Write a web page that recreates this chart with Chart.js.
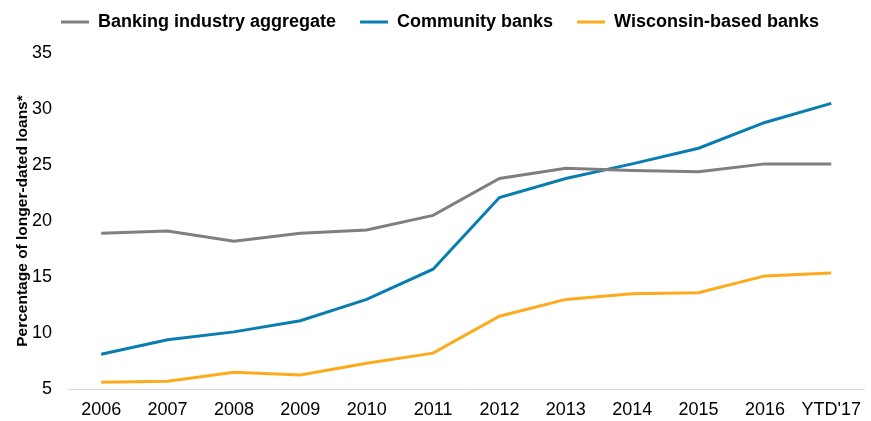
<!DOCTYPE html>
<html>
<head>
<meta charset="utf-8">
<script src="https://cdn.jsdelivr.net/npm/chart.js@4"></script>
<style>
	html, body { margin: 0; padding: 0; background: #fff; }
	#wrap { width: 871px; height: 421px; }
</style>
</head>
<body>
<div id="wrap"><canvas id="loans"></canvas></div>
<script>
var years = ['2006', '2007', '2008', '2009', '2010', '2011', '2012', '2013', '2014', '2015', '2016', "YTD'17"];
var industry = [18.9, 19.1, 18.2, 18.9, 19.2, 20.5, 23.8, 24.7, 24.5, 24.4, 25.1, 25.1];
var community = [8.1, 9.4, 10.1, 11.1, 13.0, 15.7, 22.1, 23.8, 25.1, 26.5, 28.8, 30.5];
var wisconsin = [5.6, 5.7, 6.5, 6.25, 7.3, 8.2, 11.5, 13.0, 13.5, 13.6, 15.1, 15.35];
var yTicks = [5, 10, 15, 20, 25, 30, 35];

var colors = ['#7f7f7f', '#0a7db0', '#fdab1c'];
var names = ['Banking industry aggregate', 'Community banks', 'Wisconsin-based banks'];
var series = [industry, community, wisconsin];

var datasets = [];
for (var i = 0; i < series.length; i++) {
	datasets.push({
		label: names[i],
		data: series[i],
		borderColor: colors[i],
		backgroundColor: colors[i],
		borderWidth: 3,
		pointRadius: 0,
		tension: 0,
		fill: false
	});
}

// room between the legend row and the plot
var legendGap = {
	id: 'legendGap',
	beforeInit: function (chart) {
		var fit = chart.legend.fit;
		chart.legend.fit = function () {
			fit.bind(chart.legend)();
			this.height += 12;
		};
	}
};

Chart.defaults.font.family = '"Liberation Sans", Arial, sans-serif';
Chart.defaults.color = '#000';

var context = document.getElementById('loans').getContext('2d');
var chart = new Chart(context, {
	type: 'line',
	data: { labels: years, datasets: datasets },
	plugins: [legendGap],
	options: {
		responsive: true,
		maintainAspectRatio: false,
		animation: false,
		layout: { padding: { top: -11, left: 9, right: 0, bottom: 0 } },
		plugins: {
			tooltip: { enabled: false },
			legend: {
				position: 'top',
				labels: {
					usePointStyle: true,
					pointStyle: 'line',
					pointStyleWidth: 28,
					padding: 24,
					font: { size: 18, weight: 'bold' }
				}
			}
		},
		scales: {
			x: {
				offset: true,
				grid: { display: false, drawTicks: false },
				border: { display: true, color: '#d9d9d9', width: 1 },
				ticks: { font: { size: 18 }, padding: 10, maxRotation: 0, autoSkip: false },
				afterFit: function (axis) { axis.height = 32; }
			},
			y: {
				min: 5,
				max: 35,
				afterBuildTicks: function (axis) {
					axis.ticks = yTicks.map(function (v) { return { value: v }; });
				},
				afterFit: function (axis) { axis.width = 59; },
				grid: { display: false, drawTicks: false },
				border: { display: false },
				ticks: { font: { size: 18 }, padding: 16 },
				title: {
					display: true,
					text: 'Percentage of longer-dated loans*',
					font: { size: 15.5, weight: 'bold' },
					padding: { top: 4, bottom: 0 }
				}
			}
		}
	}
});
</script>
</body>
</html>
